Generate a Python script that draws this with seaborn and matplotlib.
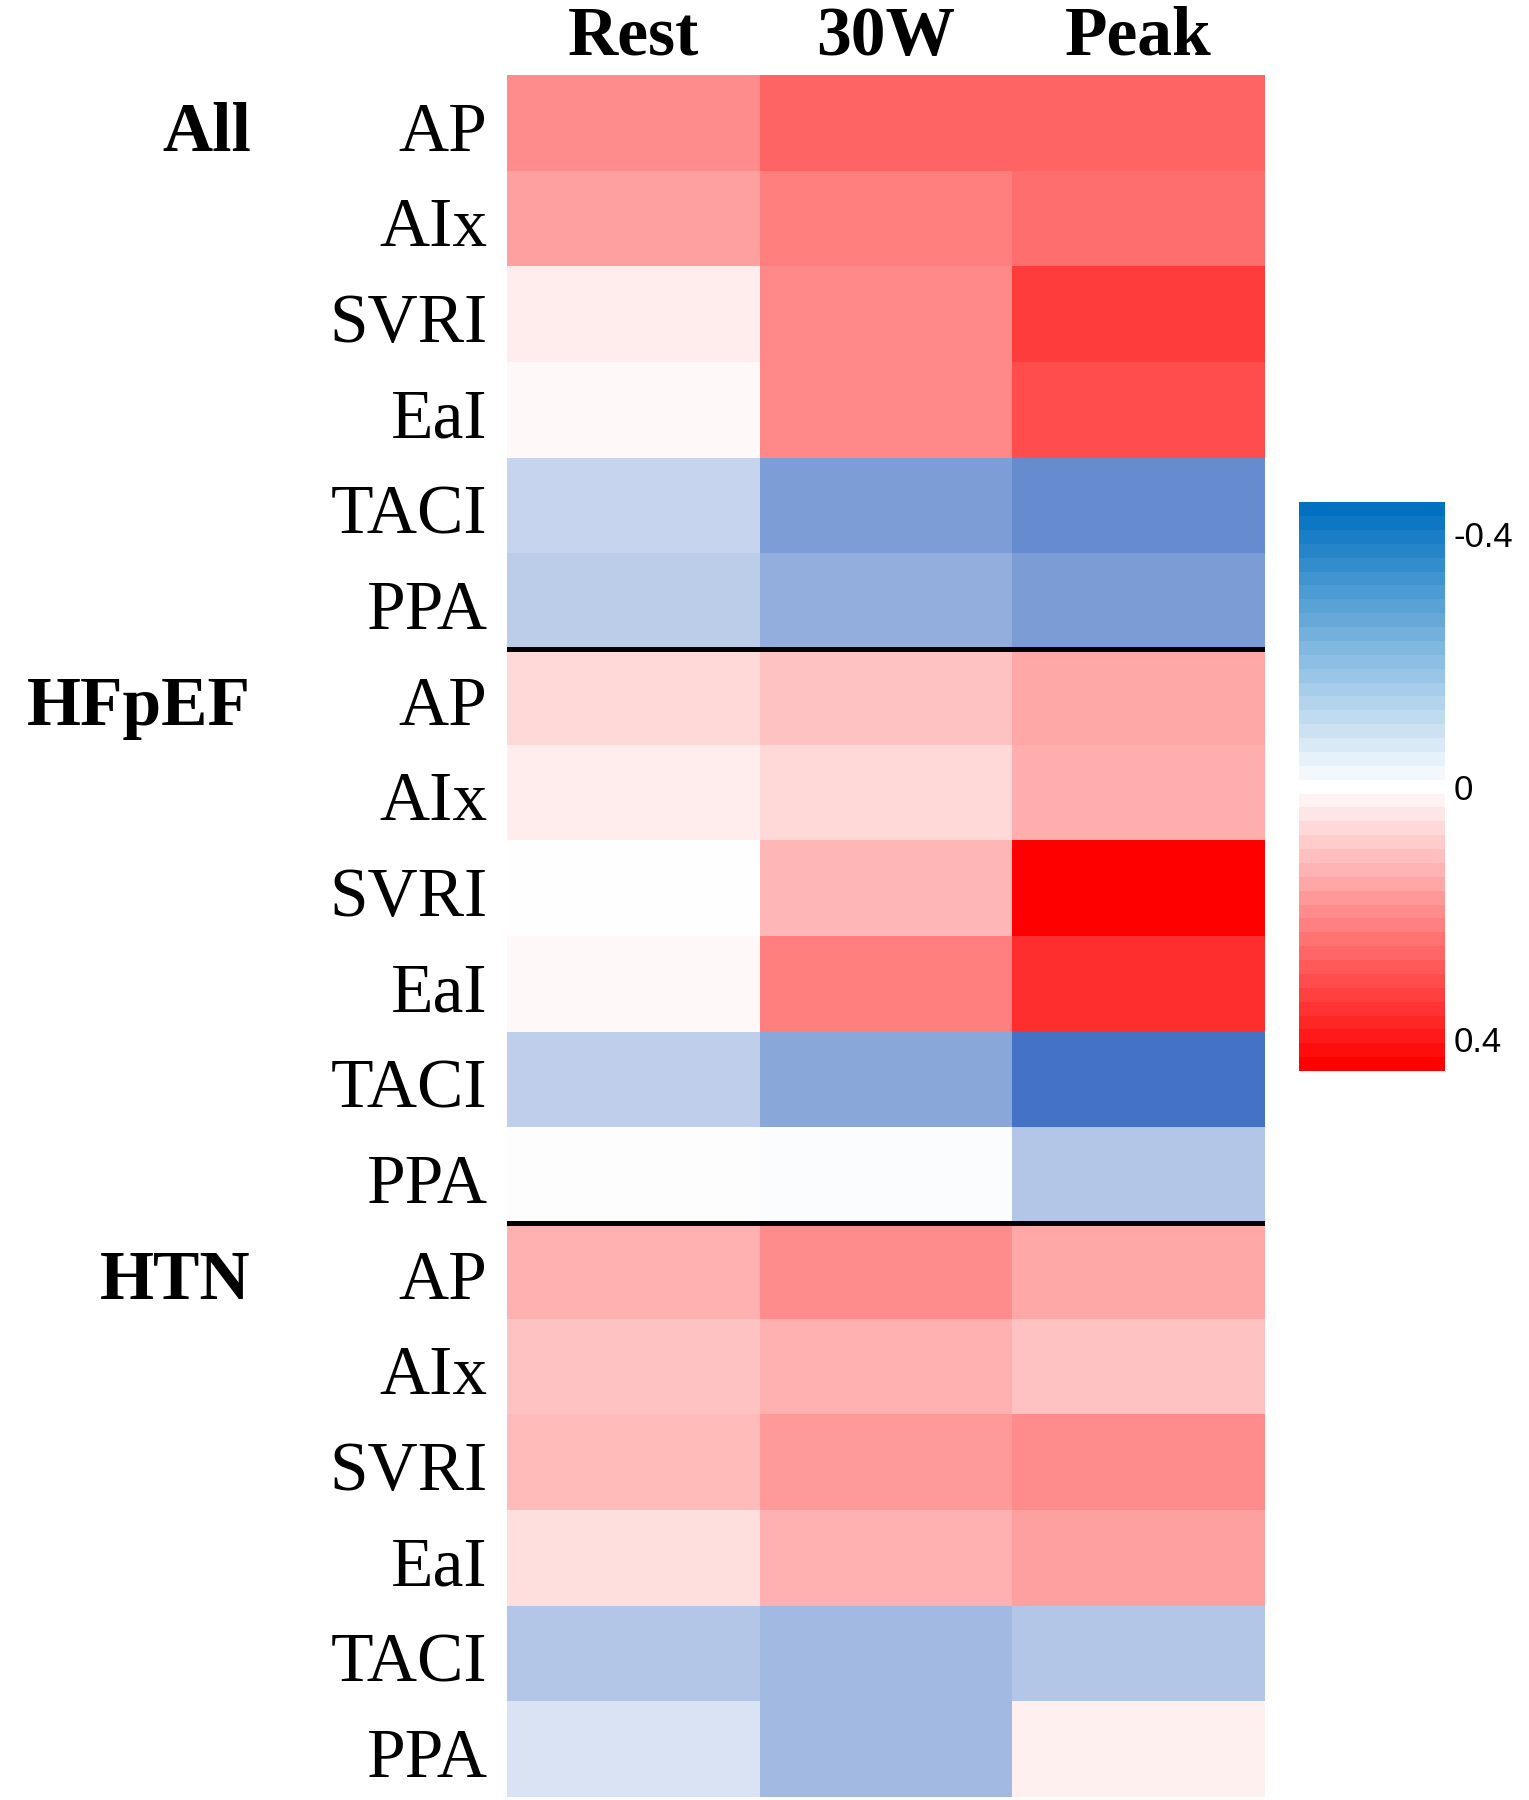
import pandas as pd
import seaborn as sns
import matplotlib.pyplot as plt
import numpy as np
from matplotlib.colors import LinearSegmentedColormap, Normalize
from matplotlib.cm import ScalarMappable
from matplotlib.transforms import ScaledTranslation

# Data (correlation-like values)
groups = ['All', 'HFpEF', 'HTN']
measures = ['AP', 'AIx', 'SVRI', 'EaI', 'TACI', 'PPA']
stages = ['Rest', '30W', 'Peak']

all_vals = [
    [0.18, 0.243, 0.243],
    [0.149, 0.20, 0.227],
    [0.031, 0.187, 0.306],
    [0.011, 0.187, 0.281],
    [-0.12, -0.276, -0.327],
    [-0.143, -0.229, -0.28],
]
hfpef_vals = [
    [0.061, 0.096, 0.136],
    [0.031, 0.061, 0.127],
    [-0.002, 0.115, 0.40],
    [0.011, 0.20, 0.325],
    [-0.135, -0.25, -0.40],
    [-0.004, -0.008, -0.16],
]
htn_vals = [
    [0.124, 0.18, 0.136],
    [0.096, 0.124, 0.096],
    [0.108, 0.158, 0.18],
    [0.052, 0.124, 0.149],
    [-0.16, -0.20, -0.16],
    [-0.08, -0.20, 0.024],
]

values = np.array(all_vals + hfpef_vals + htn_vals)
row_labels = measures * len(groups)
df = pd.DataFrame(values, index=row_labels, columns=stages)

cell_cmap = LinearSegmentedColormap.from_list('cells', ['#4472C4', '#FFFFFF', '#FF0000'])
bar_cmap = LinearSegmentedColormap.from_list('bar', ['#0070C0', '#FFFFFF', '#FF0000'], N=41)

fig = plt.figure(figsize=(15.29, 18), dpi=100)
ax = fig.add_axes([0.3316, 0.0017, 0.4957, 0.9566])

sns.heatmap(df, cmap=cell_cmap, vmin=-0.4, vmax=0.4, cbar=False, ax=ax,
            linewidths=0, yticklabels=True)

# labels sit a little below the row centre in the reference
shift = ScaledTranslation(0, -0.11, fig.dpi_scale_trans)

ax.xaxis.tick_top()
ax.tick_params(length=0)
ax.tick_params(axis='x', pad=4)
ax.tick_params(axis='y', pad=14)
for t in ax.get_xticklabels():
    t.set_fontfamily('Liberation Serif')
    t.set_fontweight('bold')
    t.set_fontsize(50)
    t.set_rotation(0)
for t in ax.get_yticklabels():
    t.set_fontfamily('Liberation Serif')
    t.set_fontsize(50)
    t.set_rotation(0)
    t.set_transform(t.get_transform() + shift)
ax.set_xlabel('')
ax.set_ylabel('')

# group separators and group names
n = len(measures)
for i in range(1, len(groups)):
    ax.axhline(i * n, color='black', lw=3.6)
for i, g in enumerate(groups):
    ax.text(-0.338, i * n + 0.5, g, transform=ax.get_yaxis_transform() + shift,
            ha='right', va='center', fontsize=50, fontweight='bold',
            fontfamily='Liberation Serif')

# colorbar
cax = fig.add_axes([0.8496, 0.405, 0.0955, 0.316])
sm = ScalarMappable(norm=Normalize(-0.45, 0.45), cmap=bar_cmap)
cbar = fig.colorbar(sm, cax=cax)
cbar.outline.set_visible(False)
cax.invert_yaxis()
cbar.set_ticks([-0.4, 0, 0.4])
cbar.set_ticklabels(['-0.4', '0', '0.4'])
cax.tick_params(length=0, pad=6, labelsize=25)
for t in cax.get_yticklabels():
    t.set_fontfamily('Liberation Sans')

fig.savefig('out.png', dpi=100)
